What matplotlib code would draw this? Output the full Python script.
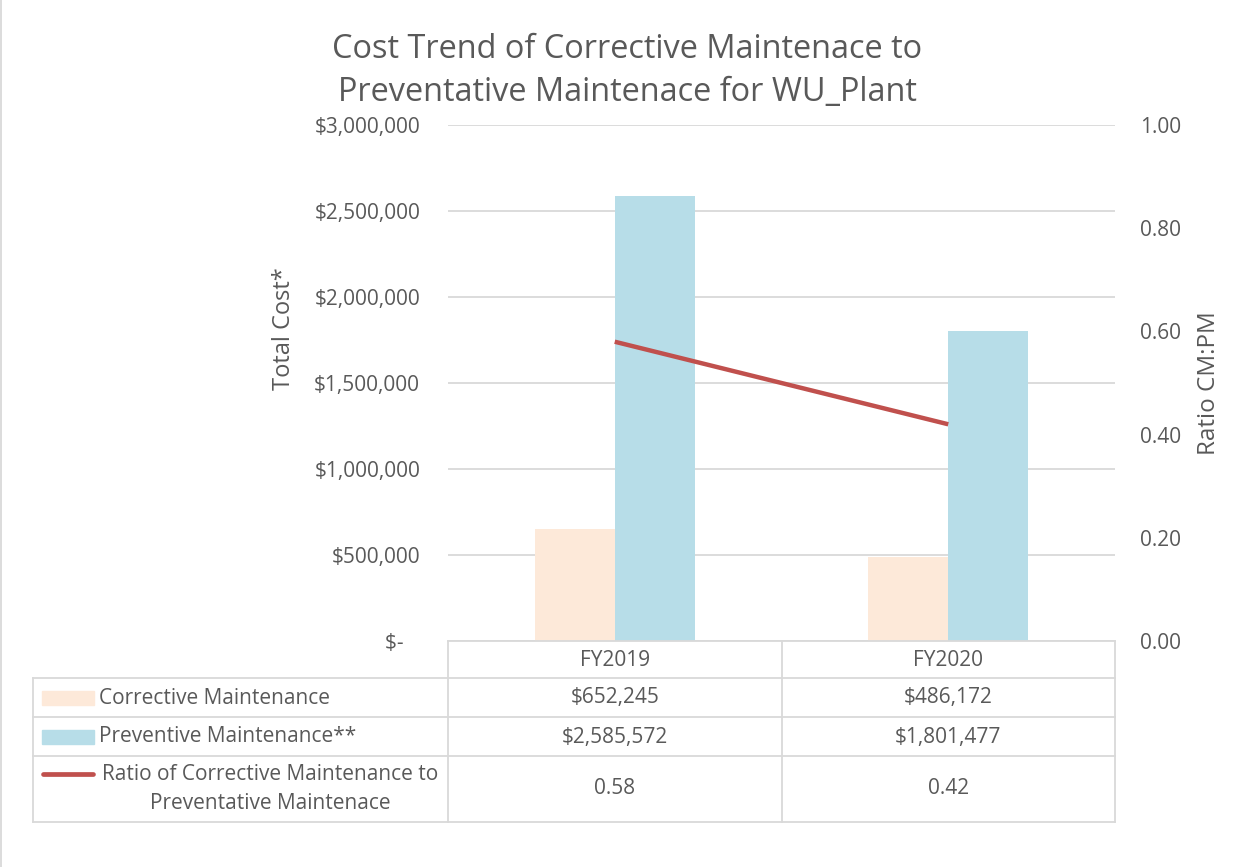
import matplotlib.pyplot as plt
import matplotlib.transforms as mtransforms
from matplotlib.ticker import FuncFormatter

# data
years = ["FY2019", "FY2020"]
corrective = [652245, 486172]
preventive = [2585572, 1801477]
ratio = [0.58, 0.42]
series_names = ["Corrective Maintenance", "Preventive Maintenance**",
                "Ratio of Corrective Maintenance to\nPreventative Maintenace"]

W, H = 1247, 867
GREY = '#595959'
GRID = '#D9D9D9'
C_CM = '#FDE9D9'
C_PM = '#B7DDE8'
C_RATIO = '#C0504D'
FS = 15
plt.rcParams['font.family'] = ['Open Sans', 'DejaVu Sans']

def fx(p):
    return p / W

def fy(p):
    return 1 - p / H

fig = plt.figure(figsize=(W / 100, H / 100), dpi=100)
ax = fig.add_axes([fx(448), fy(641), fx(667), 516 / H])

x = list(range(len(years)))
bw = 0.24
ax.bar([i - bw / 2 for i in x], corrective, width=bw, color=C_CM, zorder=2)
ax.bar([i + bw / 2 for i in x], preventive, width=bw, color=C_PM, zorder=2)
ax.set_xlim(-0.5, len(years) - 0.5)
ax.set_ylim(0, 3000000)
ax.set_yticks(range(0, 3000001, 500000))
ax.yaxis.set_major_formatter(FuncFormatter(lambda v, p: "$-   " if v == 0 else f"${v:,.0f}"))
ax.grid(axis='y', color=GRID, lw=1.3, zorder=0)
ax.set_xticks([])
ax.tick_params(axis='y', length=0, pad=20, labelsize=FS, labelcolor=GREY)
for s in ax.spines.values():
    s.set_visible(False)
ax.set_ylabel("Total Cost*", fontsize=17, color=GREY)
ax.yaxis.set_label_coords(-0.228, 0.605)

ax2 = ax.twinx()
ax2.plot(x, ratio, color=C_RATIO, lw=3.2, solid_capstyle='butt', zorder=3)
ax2.set_ylim(0, 1)
ax2.set_yticks([0, 0.2, 0.4, 0.6, 0.8, 1.0])
ax2.yaxis.set_major_formatter(FuncFormatter(lambda v, p: f"{v:.2f}"))
ax2.tick_params(axis='y', length=0, pad=18, labelsize=FS, labelcolor=GREY)
for s in ax2.spines.values():
    s.set_visible(False)
ax2.set_ylabel("Ratio CM:PM", fontsize=17.5, color=GREY)
ax2.yaxis.set_label_coords(1.123, 0.5)

# title
fig.text(fx(627), fy(71), "Cost Trend of Corrective Maintenace to\nPreventative Maintenace for WU_Plant",
         ha='center', va='center', fontsize=23.4, color=GREY, linespacing=1.42)

# data table below the chart
bt = mtransforms.blended_transform_factory(ax.transData, fig.transFigure)
rows_y = [641, 678, 717, 756, 822]
lkw = dict(color=GRID, lw=1.3, clip_on=False)
edges = [i - 0.5 for i in x] + [len(years) - 0.5]
fig.add_artist(plt.Line2D([edges[0], edges[-1]], [fy(641)] * 2, transform=bt, **lkw))
for ypx in rows_y[1:]:
    fig.add_artist(plt.Line2D([fx(33), fx(448)], [fy(ypx)] * 2, **lkw))
    fig.add_artist(plt.Line2D([edges[0], edges[-1]], [fy(ypx)] * 2, transform=bt, **lkw))
for e in edges:
    fig.add_artist(plt.Line2D([e, e], [fy(641), fy(822)], transform=bt, **lkw))
fig.add_artist(plt.Line2D([fx(33), fx(33)], [fy(678), fy(822)], **lkw))

tkw = dict(fontsize=FS, color=GREY, ha='center', va='center')
for i, yr in enumerate(years):
    fig.text(i, fy(660), yr, transform=bt, **tkw)
    fig.text(i, fy(698), f"${corrective[i]:,}", transform=bt, **tkw)
    fig.text(i, fy(737), f"${preventive[i]:,}", transform=bt, **tkw)
    fig.text(i, fy(789), f"{ratio[i]:.2f}", transform=bt, **tkw)

# legend keys + row labels
fig.add_artist(plt.Rectangle((fx(42), fy(705)), fx(52), 14 / H, color=C_CM))
fig.add_artist(plt.Rectangle((fx(42), fy(744)), fx(52), 14 / H, color=C_PM))
fig.add_artist(plt.Line2D([fx(43), fx(93)], [fy(774)] * 2, color=C_RATIO, lw=3.4,
                          solid_capstyle='round'))
lab = dict(fontsize=FS, color=GREY, va='center')
fig.text(fx(99), fy(698), series_names[0], ha='left', **lab)
fig.text(fx(99), fy(737), series_names[1], ha='left', **lab)
fig.text(fx(270), fy(789), series_names[2], ha='center', multialignment='center',
         linespacing=1.5, **lab)

# chart border (left edge visible)
fig.add_artist(plt.Line2D([fx(1), fx(1)], [0, 1], color=GRID, lw=1.3))

fig.savefig("out.png", dpi=100, facecolor='white')
